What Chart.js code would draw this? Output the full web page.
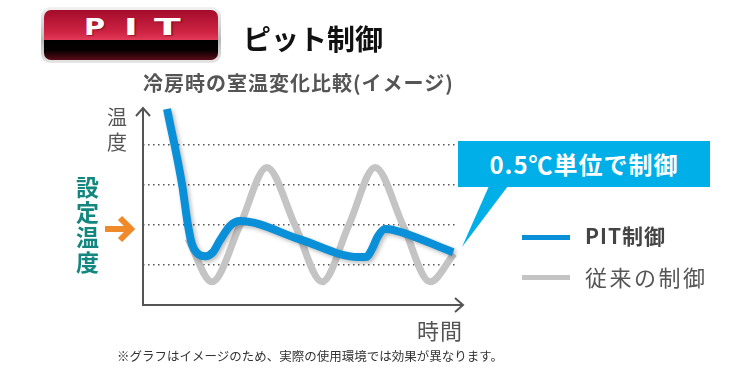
<!DOCTYPE html>
<html lang="ja">
<head>
<meta charset="utf-8">
<script src="https://cdn.jsdelivr.net/npm/chart.js@4"></script>
<style>
  html, body { margin: 0; padding: 0; background: #fff; }
  body { width: 750px; height: 380px; position: relative; overflow: hidden;
         font-family: "Noto Sans CJK JP", "Noto Sans", sans-serif; }
  #chart { position: absolute; left: 0; top: 0; }
  .t { position: absolute; line-height: 1; white-space: nowrap; }
  .badge { position: absolute; left: 41px; top: 7px; width: 180px; height: 56px; box-sizing: border-box;
           border-radius: 9px; padding: 3px;
           background: linear-gradient(to bottom, #f2f2f2, #b9b9b9 60%, #e6e6e6); }
  .badge .in { position: relative; width: 100%; height: 100%; border-radius: 7px; overflow: hidden;
               background: linear-gradient(to bottom, #a40c2a 0%, #cf2444 45%, #e23a58 60%, #000 60.5%, #050000 80%, #5a0c18 100%); }
  .badge span { position: absolute; top: 6px; color: #fff; font: bold 23px "DejaVu Sans", sans-serif;
                line-height: 1; transform-origin: left top;
                text-shadow: 1px 1px 1px rgba(90,0,20,0.5); }
  .callout { position: absolute; left: 458px; top: 141px; width: 252px; height: 46px; background: #00aee8;
             color: #fff; font-weight: bold; font-size: 24px; letter-spacing: 1px; text-align: center;
             line-height: 46px; }
  .leg { position: absolute; left: 522px; width: 48px; height: 5px; }
</style>
</head>
<body>
<canvas id="chart" width="750" height="380"></canvas>

<div class="badge"><div class="in">
  <span style="left:40px;transform:scaleX(1.25)">P</span>
  <span style="left:80px;transform:scaleX(1.6)">I</span>
  <span style="left:110px;transform:scaleX(1.7)">T</span>
</div></div>
<div class="t" style="left:243px;top:24px;font-size:28px;font-weight:bold;color:#111;">ピット制御</div>
<div class="t" style="left:143px;top:73px;font-size:20px;font-weight:bold;color:#555;letter-spacing:1px;">冷房時の室温変化比較(イメージ)</div>

<div class="t" style="left:107px;top:104px;font-size:20px;line-height:25px;color:#555;width:20px;white-space:normal;">温<br>度</div>
<div class="t" style="left:76px;top:174px;font-size:23px;line-height:25px;font-weight:bold;color:#13877f;width:24px;white-space:normal;">設<br>定<br>温<br>度</div>

<svg width="750" height="380" style="position:absolute;left:0;top:0;pointer-events:none">
  <line x1="105" y1="229" x2="129" y2="229" stroke="#ef8a2a" stroke-width="6"/>
  <polyline points="120,218 131,229 120,240" fill="none" stroke="#ef8a2a" stroke-width="6"/>
  <polygon points="489,186 508,186 462,247" fill="#00aee8"/>
</svg>
<div class="callout">0.5℃単位で制御</div>

<div class="leg" style="top:235px;background:#0a90d8"></div>
<div class="t" style="left:585px;top:225px;font-size:21px;font-weight:bold;color:#444;letter-spacing:1px;">PIT制御</div>
<div class="leg" style="top:275px;background:#c4c4c4"></div>
<div class="t" style="left:585px;top:265px;font-size:22px;color:#555;letter-spacing:2.5px;">従来の制御</div>

<div class="t" style="left:417px;top:318px;font-size:22px;color:#555;letter-spacing:1px;">時間</div>
<div class="t" style="left:117px;top:350px;font-size:12.5px;color:#333;">※グラフはイメージのため、実際の使用環境では効果が異なります。</div>

<script>
// PIT制御（青）
const pitTime = [7.7, 12.5, 14.4, 15.7, 17.3, 19.9, 22.4, 24.7, 27.9, 31.1, 50.3, 68.9, 71.5, 73.4, 75.3, 77.6, 80.1, 99.4];
const pitTemp = [27.45, 26.51, 26.0, 25.76, 25.65, 25.61, 25.66, 25.81, 25.99, 26.05, 25.82, 25.6, 25.6, 25.7, 25.86, 25.95, 25.94, 25.66];

// 従来の制御（グレー）
const oldTime = [14.4, 22.1, 31.1, 39.7, 48.7, 57.4, 66.0, 74.4, 83.3, 92.0, 99.7];
const oldTemp = [25.83, 25.29, 26.0, 26.72, 26.0, 25.29, 26.0, 26.72, 26.0, 25.29, 25.64];

// 点線の目盛り（0.5℃刻み、設定温度 = 26）
const gridTemps = [25.5, 26, 26.5, 27];
const seriesLabels = ["PIT制御", "従来の制御"];

const toPoints = (xs, ys) => xs.map((x, i) => ({ x, y: ys[i] }));

// 青線の影
const shadowPlugin = {
  id: "lineShadow",
  beforeDatasetDraw(chart, args) {
    if (args.index !== 0) return;
    const ctx = chart.ctx;
    ctx.save();
    ctx.shadowColor = "rgba(0,0,0,0.28)";
    ctx.shadowBlur = 4;
    ctx.shadowOffsetX = 2;
    ctx.shadowOffsetY = 2;
  },
  afterDatasetDraw(chart, args) {
    if (args.index === 0) chart.ctx.restore();
  },
};

// 矢印付きの軸
const arrowAxes = {
  id: "arrowAxes",
  beforeDatasetsDraw(chart) {
    const { ctx, chartArea } = chart;
    const x0 = chart.scales.x.getPixelForValue(0);
    const y0 = chart.scales.y.getPixelForValue(25);
    const top = chartArea.top + 3;
    const right = chartArea.right + 8;
    ctx.save();
    ctx.strokeStyle = "#555";
    ctx.lineWidth = 2;
    ctx.beginPath();
    ctx.moveTo(x0, top);
    ctx.lineTo(x0, y0);
    ctx.lineTo(right, y0);
    ctx.moveTo(x0 - 7, top + 8);
    ctx.lineTo(x0, top);
    ctx.lineTo(x0 + 7, top + 8);
    ctx.moveTo(right - 8, y0 - 7);
    ctx.lineTo(right, y0);
    ctx.lineTo(right - 8, y0 + 7);
    ctx.stroke();
    ctx.restore();
  },
};

new Chart(document.getElementById("chart"), {
  type: "line",
  data: {
    datasets: [
      {
        label: seriesLabels[0],
        data: toPoints(pitTime, pitTemp),
        borderColor: "#0a90d8",
        borderWidth: 8,
        cubicInterpolationMode: "monotone",
        pointRadius: 0,
        clip: false,
      },
      {
        label: seriesLabels[1],
        data: toPoints(oldTime, oldTemp),
        borderColor: "#c4c4c4",
        borderWidth: 7,
        cubicInterpolationMode: "monotone",
        pointRadius: 0,
        clip: false,
      },
    ],
  },
  options: {
    responsive: false,
    animation: false,
    devicePixelRatio: 1,
    layout: { padding: { left: 143, right: 295, top: 105, bottom: 75 } },
    plugins: { legend: { display: false }, tooltip: { enabled: false } },
    scales: {
      x: { type: "linear", min: 0, max: 100, display: false },
      y: {
        type: "linear",
        min: 25,
        max: 27.5,
        afterBuildTicks: (s) => { s.ticks = gridTemps.map((v) => ({ value: v })); },
        ticks: { display: false },
        border: { display: false, dash: [1.5, 3.5] },
        grid: { color: "#555", lineWidth: 1.5, drawTicks: false, tickLength: 0 },
      },
    },
  },
  plugins: [shadowPlugin, arrowAxes],
});
</script>
</body>
</html>
